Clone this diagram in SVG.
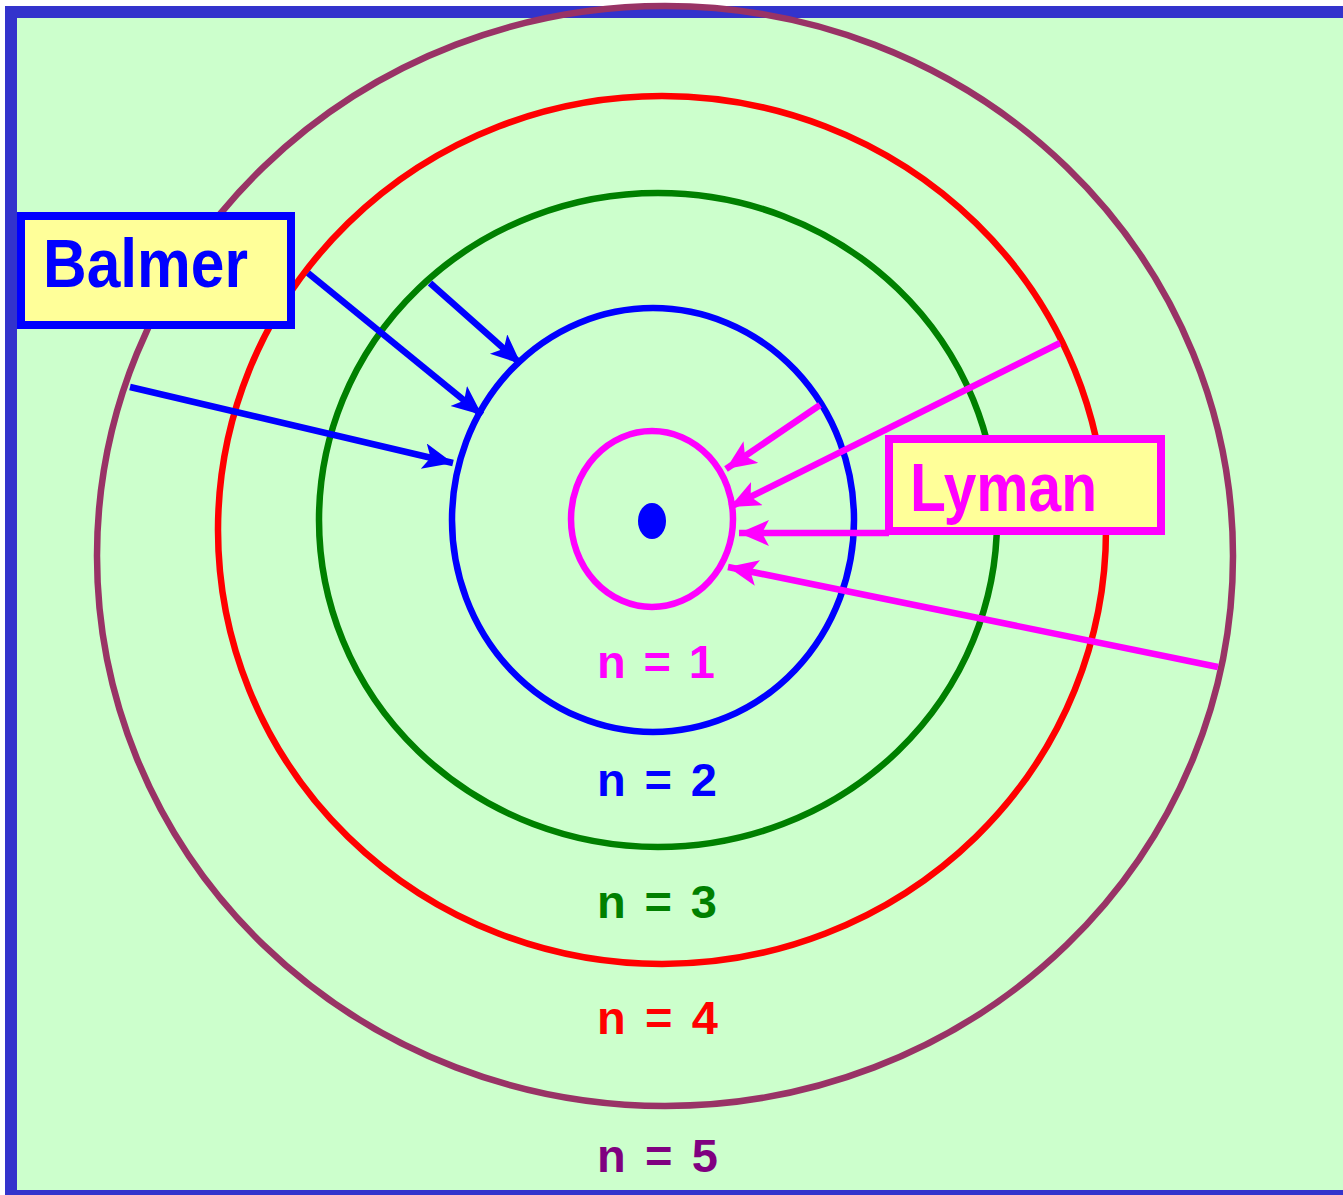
<svg xmlns="http://www.w3.org/2000/svg" width="1343" height="1195" viewBox="0 0 1343 1195">
<style>
.orb{fill:none;stroke-width:6.5}
.box{fill:#FFFF99;stroke-width:8}
.lbl{font-family:"Liberation Sans",Arial,sans-serif;font-weight:bold}
.big{font-size:68px}
.n{font-size:47px}
.ba{stroke:#0000FF;stroke-width:6.5;fill:none;marker-end:url(#hb)}
.ly{stroke:#FF00FF;stroke-width:6.5;fill:none;marker-end:url(#hm)}
</style>
<defs>
<marker id="hb" markerUnits="userSpaceOnUse" markerWidth="34" markerHeight="28" refX="30" refY="13" orient="auto" viewBox="0 0 34 28">
<path d="M0,0 L30,13 L0,26 L7,13 Z" fill="#0000FF"/>
</marker>
<marker id="hm" markerUnits="userSpaceOnUse" markerWidth="34" markerHeight="28" refX="30" refY="13" orient="auto" viewBox="0 0 34 28">
<path d="M0,0 L30,13 L0,26 L7,13 Z" fill="#FF00FF"/>
</marker>
</defs>
<rect x="11" y="12" width="1400" height="1184" fill="#CCFFCC" stroke="#3333CC" stroke-width="12"/>
<g id="orbit5"><ellipse class="orb" cx="665" cy="556" rx="568" ry="550" stroke="#993366"/></g>
<g id="orbit4"><ellipse class="orb" cx="662" cy="530" rx="444" ry="434" stroke="#FF0000"/></g>
<g id="orbit3"><ellipse class="orb" cx="658" cy="520" rx="339" ry="327" stroke="#008000"/></g>
<g id="orbit2"><ellipse class="orb" cx="653" cy="520" rx="201" ry="212" stroke="#0000FF"/></g>
<g id="orbit1"><ellipse class="orb" cx="652" cy="519" rx="81" ry="88" stroke="#FF00FF"/></g>
<g id="nucleus"><ellipse cx="652" cy="521" rx="14" ry="18" fill="#0000FF"/></g>
<g id="connectors">
<line class="ba" x1="430" y1="283" x2="521" y2="364"/>
<line class="ba" x1="308" y1="273" x2="482" y2="415"/>
<line class="ba" x1="130" y1="387" x2="453" y2="463"/>
<line class="ly" x1="820" y1="405" x2="726" y2="469"/>
<line class="ly" x1="1060" y1="343" x2="730" y2="507"/>
<line class="ly" x1="889" y1="533" x2="739" y2="533"/>
<line class="ly" x1="1218" y1="667" x2="728" y2="567"/>
</g>
<g id="balmer">
<rect class="box" x="21" y="216" width="270" height="109" stroke="#0000FF"/>
<text class="lbl big" x="43" y="287" fill="#0000FF" textLength="205" lengthAdjust="spacingAndGlyphs">Balmer</text>
</g>
<g id="lyman">
<rect class="box" x="889" y="439" width="272" height="92" stroke="#FF00FF"/>
<text class="lbl big" x="910" y="511" fill="#FF00FF" textLength="187" lengthAdjust="spacingAndGlyphs">Lyman</text>
</g>
<g id="labels">
<text class="lbl n" x="597" y="678" fill="#FF00FF" textLength="118" xml:space="preserve">n = 1</text>
<text class="lbl n" x="597" y="796" fill="#0000FF" textLength="120" xml:space="preserve">n = 2</text>
<text class="lbl n" x="597" y="918" fill="#008000" textLength="120" xml:space="preserve">n = 3</text>
<text class="lbl n" x="597" y="1034" fill="#FF0000" textLength="121" xml:space="preserve">n = 4</text>
<text class="lbl n" x="597" y="1172" fill="#800080" textLength="121" xml:space="preserve">n = 5</text>
</g>
</svg>
